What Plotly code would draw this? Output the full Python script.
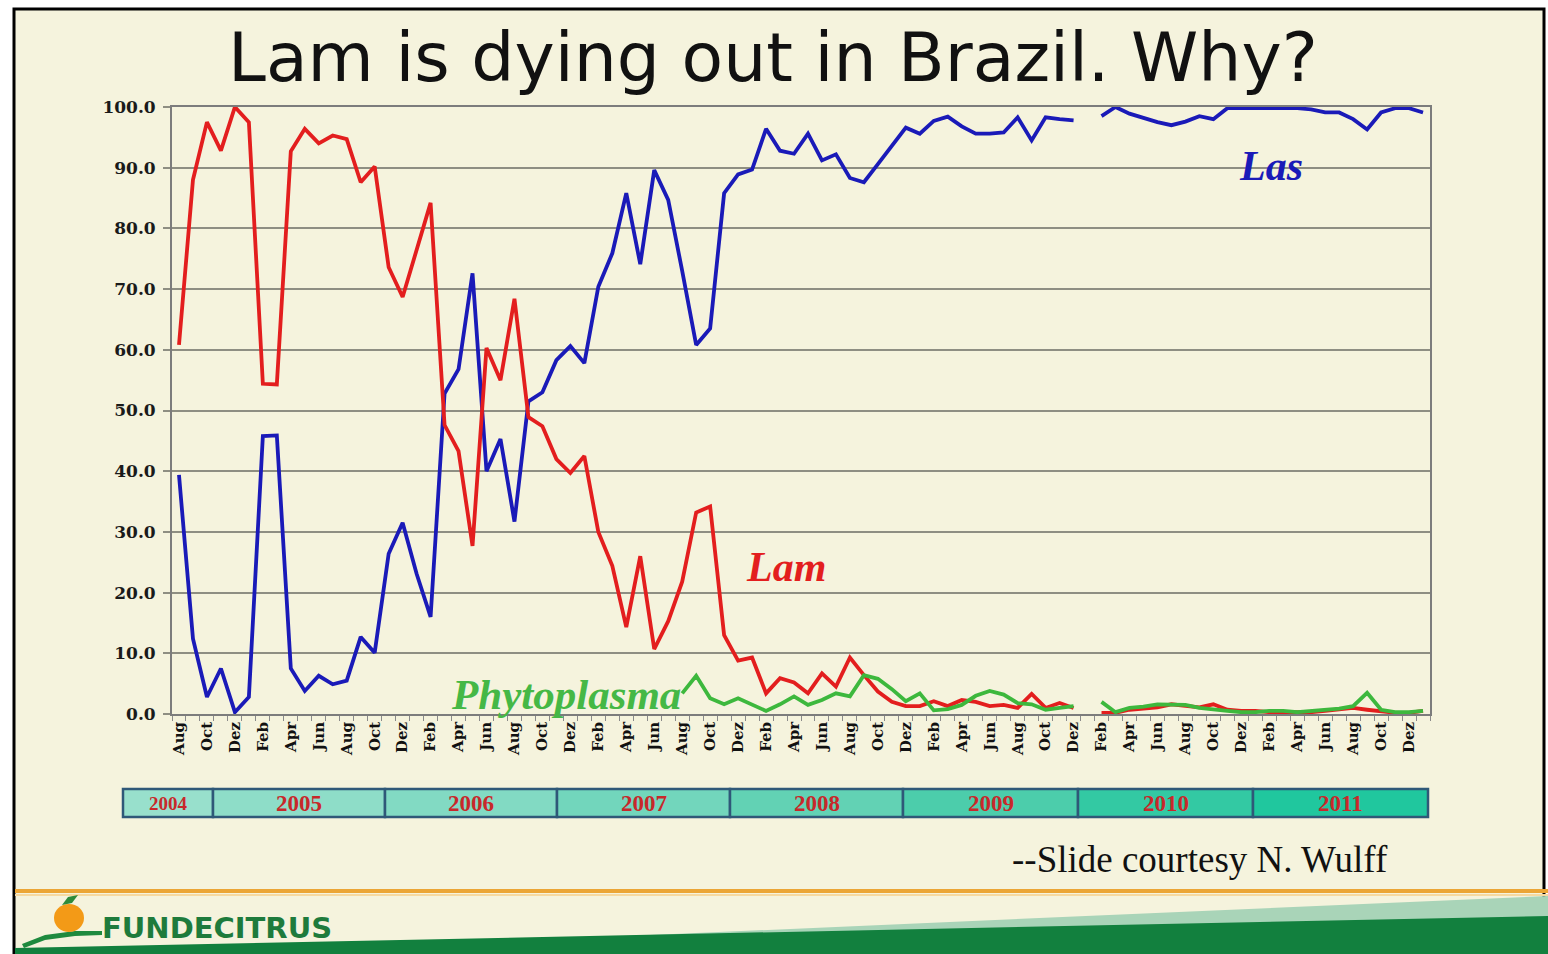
import plotly.graph_objects as go

# ---------------- DATA ----------------
month_names = ["Jan", "Feb", "Mar", "Apr", "May", "Jun",
               "Jul", "Aug", "Sep", "Oct", "Nov", "Dez"]
start_year, start_month = 2004, 8  # Aug 2004 .. Jan 2012 (90 months)
n_months = 90

las = [39.4, 12.4, 2.8, 7.5, 0.3, 2.8, 45.8, 45.9, 7.5, 3.8,
       6.3, 4.9, 5.5, 12.7, 10.1, 26.4, 31.5, 23.1, 16.0, 52.8,
       56.8, 72.6, 40.0, 45.3, 31.7, 51.5, 53.0, 58.3, 60.6, 57.8,
       70.4, 75.9, 85.8, 74.1, 89.6, 84.7, 73.0, 60.8, 63.5, 85.8,
       88.9, 89.7, 96.4, 92.8, 92.3, 95.6, 91.2, 92.2, 88.3, 87.6,
       90.6, 93.5, 96.6, 95.6, 97.7, 98.4, 96.8, 95.6, 95.6, 95.8,
       98.3, 94.5, 98.3, 98.0, 97.8, None, 98.5, 100.0, 98.9, 98.2,
       97.5, 97.0, 97.6, 98.5, 98.0, 99.8, 99.8, 99.8, 99.8, 99.8,
       99.8, 99.6, 99.1, 99.1, 98.0, 96.3, 99.1, 99.8, 99.8, 99.1]

lam = [60.8, 88.0, 97.5, 92.8, 100.0, 97.5, 54.4, 54.3, 92.7, 96.4,
       94.0, 95.3, 94.7, 87.6, 90.2, 73.6, 68.7, 76.5, 84.2, 47.6,
       43.3, 27.7, 60.3, 55.0, 68.4, 48.9, 47.4, 42.0, 39.7, 42.5,
       30.0, 24.4, 14.3, 26.0, 10.7, 15.3, 21.8, 33.2, 34.2, 13.0,
       8.8, 9.3, 3.4, 5.9, 5.2, 3.4, 6.7, 4.5, 9.3, 6.4,
       3.7, 2.0, 1.3, 1.3, 2.1, 1.3, 2.3, 2.0, 1.3, 1.5,
       1.0, 3.3, 1.0, 1.8, 1.0, None, 0.2, 0.2, 0.7, 0.9,
       1.1, 1.6, 1.3, 1.1, 1.6, 0.7, 0.5, 0.5, 0.3, 0.3,
       0.3, 0.3, 0.5, 0.7, 1.0, 0.7, 0.5, 0.2, 0.2, 0.5]

phyto = [None] * 36 + [
       3.4, 6.3, 2.6, 1.6,
       2.6, 1.5, 0.5, 1.6, 2.9, 1.5, 2.3, 3.4, 2.9, 6.4,
       5.8, 4.1, 2.1, 3.4, 0.6, 0.8, 1.5, 3.0, 3.8, 3.2,
       1.8, 1.6, 0.7, 1.0, 1.3, None, 2.0, 0.3, 1.0, 1.2,
       1.6, 1.6, 1.5, 1.0, 0.7, 0.5, 0.3, 0.3, 0.5, 0.5,
       0.3, 0.5, 0.7, 0.9, 1.3, 3.5, 0.7, 0.3, 0.3, 0.5]

years = ["2004", "2005", "2006", "2007", "2008", "2009", "2010", "2011"]
y_ticks = [0, 10, 20, 30, 40, 50, 60, 70, 80, 90, 100]

title_text = "Lam is dying out in Brazil. Why?"
credit_text = "--Slide courtesy N. Wulff"
logo_text = "FUNDECITRUS"

# ---------------- derived ----------------
x_idx = list(range(n_months))
month_labels = [month_names[(start_month - 1 + i) % 12] for i in x_idx]
tick_vals = x_idx[::2]
tick_text = month_labels[::2]

# ---------------- layout helpers (pixel -> paper) ----------------
W, H = 1548, 954
L, R, T, B = 172, 1430, 107, 714


def px(x):
    return (x - L) / (R - L)


def py(y):
    return (B - y) / (B - T)


def path(points):
    s = "M " + " L ".join(f"{px(x):.5f},{py(y):.5f}" for x, y in points) + " Z"
    return s


CREAM = "#F5F3DD"
RED = "#E31E1E"
BLUE = "#1A1AB8"
GREEN = "#3DB83D"
GRID = "#8E8E82"
SERIF = "DejaVu Serif, Liberation Serif, serif"
TIMES = "Liberation Serif, Times New Roman, serif"

fig = go.Figure()
fig.add_trace(go.Scatter(x=x_idx, y=las, mode="lines", name="Las",
                         line=dict(color=BLUE, width=3.8), connectgaps=False))
fig.add_trace(go.Scatter(x=x_idx, y=lam, mode="lines", name="Lam",
                         line=dict(color=RED, width=3.8), connectgaps=False))
fig.add_trace(go.Scatter(x=x_idx, y=phyto, mode="lines", name="Phytoplasma",
                         line=dict(color=GREEN, width=3.8), connectgaps=False))

shapes = []
# slide frame
shapes.append(dict(type="rect", xref="paper", yref="paper", layer="below",
                   x0=px(14), x1=px(1544), y0=py(970), y1=py(9),
                   line=dict(color="black", width=3), fillcolor=CREAM))
# orange rule
shapes.append(dict(type="line", xref="paper", yref="paper", layer="below",
                   x0=px(15), x1=px(1548), y0=py(891), y1=py(891),
                   line=dict(color="#EBA535", width=4)))
shapes.append(dict(type="line", xref="paper", yref="paper", layer="below",
                   x0=px(15), x1=px(1548), y0=py(895), y1=py(895),
                   line=dict(color="#F6D9A0", width=2)))
# green band
shapes.append(dict(type="path", xref="paper", yref="paper", layer="below",
                   path=path([(420, 945), (1548, 896), (1548, 920)]),
                   fillcolor="#A9D4B8", line=dict(width=0)))
shapes.append(dict(type="path", xref="paper", yref="paper", layer="below",
                   path=path([(15, 954), (15, 948), (1548, 916), (1548, 954)]),
                   fillcolor="#12803E", line=dict(width=0)))
# logo
shapes.append(dict(type="path", xref="paper", yref="paper", layer="below",
                   path=path([(22, 944), (45, 935), (75, 931), (102, 931),
                              (102, 935), (75, 936), (45, 940), (24, 948)]),
                   fillcolor="#1E8A3E", line=dict(width=0)))
shapes.append(dict(type="circle", xref="paper", yref="paper", layer="below",
                   x0=px(54), x1=px(84), y0=py(932), y1=py(904),
                   fillcolor="#F39A17", line=dict(width=0)))
shapes.append(dict(type="path", xref="paper", yref="paper", layer="below",
                   path=path([(62, 905), (68, 897), (78, 895), (72, 903)]),
                   fillcolor="#2E8B3A", line=dict(width=0)))

# year bar
year_edges = [123, 213, 385, 557, 730, 903, 1078, 1253, 1428]
year_fills = ["#98E0CC", "#8EDDC8", "#82DAC3", "#72D6BC",
              "#62D2B4", "#4CCDAB", "#33C9A3", "#20C79E"]
annotations = []
for i, yr in enumerate(years):
    x0, x1 = year_edges[i], year_edges[i + 1]
    shapes.append(dict(type="rect", xref="paper", yref="paper",
                       x0=px(x0), x1=px(x1), y0=py(817), y1=py(789),
                       fillcolor=year_fills[i],
                       line=dict(color="#2F5878", width=2.5)))
    annotations.append(dict(xref="paper", yref="paper", x=px((x0 + x1) / 2),
                            y=py(803), text=f"<b>{yr}</b>", showarrow=False,
                            xanchor="center", yanchor="middle",
                            font=dict(family=TIMES, size=19 if i == 0 else 23,
                                      color="#C8282A")))

# title
annotations.append(dict(xref="paper", yref="paper", x=px(773), y=py(57),
                        text=title_text, showarrow=False,
                        xanchor="center", yanchor="middle",
                        font=dict(family="DejaVu Sans, Verdana, sans-serif",
                                  size=68, color="#111111")))
# series labels
annotations.append(dict(xref="paper", yref="paper", x=px(1271), y=py(166),
                        text="<b><i>Las</i></b>", showarrow=False,
                        xanchor="center", yanchor="middle",
                        font=dict(family=TIMES, size=42, color=BLUE)))
annotations.append(dict(xref="paper", yref="paper", x=px(786), y=py(567),
                        text="<b><i>Lam</i></b>", showarrow=False,
                        xanchor="center", yanchor="middle",
                        font=dict(family=TIMES, size=42, color=RED)))
annotations.append(dict(xref="paper", yref="paper", x=px(566), y=py(694),
                        text="<b><i>Phytoplasma</i></b>", showarrow=False,
                        xanchor="center", yanchor="middle",
                        font=dict(family=TIMES, size=43, color="#45B845")))
# credit
annotations.append(dict(xref="paper", yref="paper", x=px(1200), y=py(860),
                        text=credit_text, showarrow=False,
                        xanchor="center", yanchor="middle",
                        font=dict(family=TIMES, size=37, color="#111111")))
# logo text
annotations.append(dict(xref="paper", yref="paper", x=px(100), y=py(928),
                        text=f"<b>{logo_text}</b>", showarrow=False,
                        xanchor="left", yanchor="middle",
                        font=dict(family="DejaVu Sans, sans-serif", size=29,
                                  color="#1E7B3C")))

fig.update_layout(
    width=W, height=H,
    margin=dict(l=L, r=W - R, t=T, b=H - B, pad=0),
    paper_bgcolor="white",
    plot_bgcolor=CREAM,
    showlegend=False,
    shapes=shapes,
    annotations=annotations,
    xaxis=dict(
        range=[-0.5, n_months - 0.5],
        tickmode="array", tickvals=tick_vals, ticktext=tick_text,
        tickangle=-90, ticks="",
        tickfont=dict(family=SERIF, size=15, color="#111111", weight="bold"),
        showgrid=False, zeroline=False,
        showline=True, linecolor="#7C7C7C", linewidth=1.8, mirror=True,
        minor=dict(tickmode="linear", tick0=-0.5, dtick=1, ticks="outside",
                   ticklen=5, tickwidth=1.2, tickcolor="#8A8A8A"),
        fixedrange=True,
    ),
    yaxis=dict(
        range=[0, 100],
        tickmode="array", tickvals=y_ticks,
        tickformat=".1f",
        ticks="outside", ticklen=7, tickwidth=1.6, tickcolor=GRID,
        tickfont=dict(family=SERIF, size=17, color="#1A1A1A", weight="bold"),
        showgrid=True, gridcolor=GRID, gridwidth=1.6,
        zeroline=False,
        showline=True, linecolor="#7C7C7C", linewidth=1.8, mirror=True,
        ticklabelstandoff=4,
        fixedrange=True,
    ),
)

fig.write_html("out.html")
